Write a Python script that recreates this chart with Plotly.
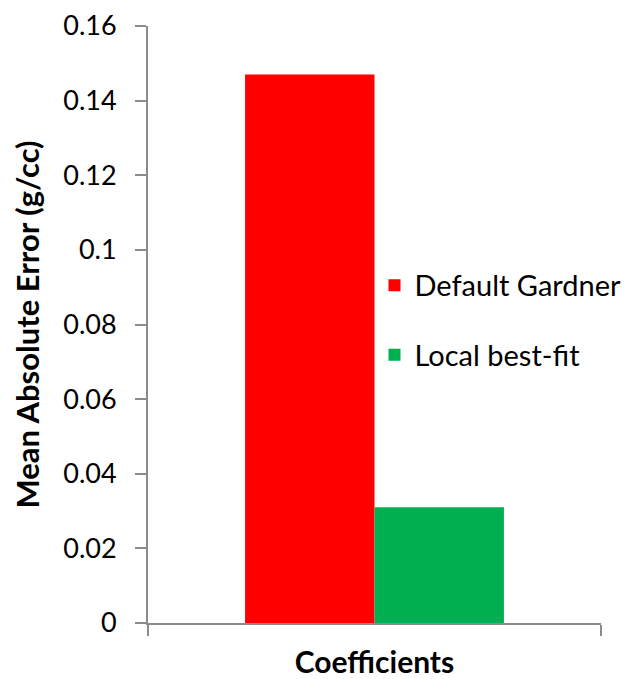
import plotly.graph_objects as go

categories = ["Coefficients"]
series_names = ["Default Gardner", "Local best-fit"]
series_values = [[0.147], [0.031]]
series_colors = ["#FF0000", "#00B050"]
y_ticks = [0, 0.02, 0.04, 0.06, 0.08, 0.1, 0.12, 0.14, 0.16]
y_tick_labels = ["0", "0.02", "0.04", "0.06", "0.08", "0.1", "0.12", "0.14", "0.16"]

FONT = "Lato"
AXIS_GRAY = "#8C8C8C"

fig = go.Figure()
for name, vals, col in zip(series_names, series_values, series_colors):
    fig.add_trace(go.Bar(x=categories, y=vals, name=name, legendgroup=name,
                         marker=dict(color=col, line=dict(width=0))))

fig.update_layout(
    width=625, height=671,
    margin=dict(l=140, r=32, t=18, b=56, autoexpand=False),
    paper_bgcolor="white", plot_bgcolor="white",
    barmode="group", bargap=1.5/3.5, bargroupgap=0,
    font=dict(family=FONT, color="black"),
    showlegend=True,
    legend=dict(x=0.5, y=0.507, xanchor="left", yanchor="middle", xref="paper", yref="paper",
                font=dict(family=FONT, size=29, color="black"), bgcolor="rgba(0,0,0,0)",
                tracegroupgap=29, itemwidth=30),
)
fig.update_xaxes(
    type="category", range=[-0.5, 0.5], showticklabels=False,
    tickson="boundaries", ticks="outside", ticklen=11, tickwidth=2, tickcolor=AXIS_GRAY,
    showline=True, linecolor=AXIS_GRAY, linewidth=2, showgrid=False, zeroline=False,
    title=dict(text="<b>Coefficients</b>", font=dict(family=FONT, size=30, color="black"), standoff=31),
)
fig.update_yaxes(
    range=[0, 0.16], tickmode="array", tickvals=y_ticks, ticktext=y_tick_labels,
    ticks="outside", ticklen=11, tickwidth=2, tickcolor=AXIS_GRAY, ticklabelstandoff=13,
    ticklabeloverflow="allow",
    tickfont=dict(family=FONT, size=27, color="black"),
    showline=True, linecolor=AXIS_GRAY, linewidth=2, showgrid=False, zeroline=False,
    title=dict(text="<b>Mean Absolute Error (g/cc)</b>", font=dict(family=FONT, size=31, color="black"), standoff=15),
)
fig.write_html("out.html")
